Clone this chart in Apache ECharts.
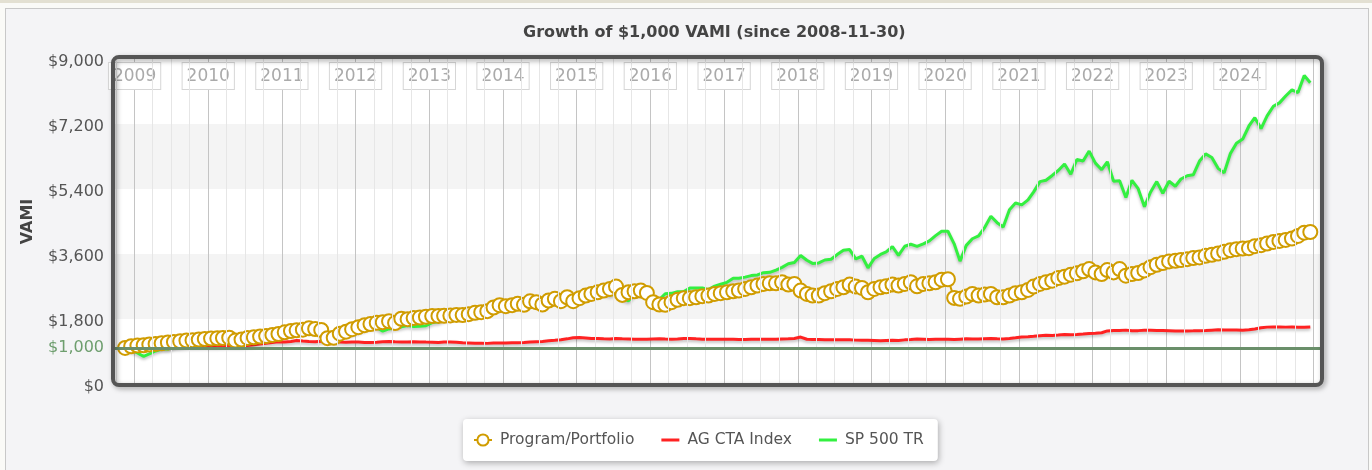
<!DOCTYPE html>
<html>
<head>
<meta charset="utf-8">
<title>Growth of $1,000 VAMI</title>
<script src="https://cdn.jsdelivr.net/npm/echarts@6/dist/echarts.min.js"></script>
<style>
html, body { margin: 0; padding: 0; background: #fafaf7; }
#strip { position: absolute; left: 0; top: 0; width: 1372px; height: 3px; background: #e3e0d2; }
#box { position: absolute; left: 5px; top: 8px; width: 1364px; height: 470px; box-sizing: border-box;
       border: 1px solid #c8c8c8; background: #f4f4f6; }
#chart { position: absolute; left: 0; top: 0; width: 1372px; height: 470px; }
</style>
</head>
<body>
<div id="strip"></div>
<div id="box"></div>
<div id="chart"></div>
<script>
// monthly values, Nov 2008 .. Dec 2024 (first row: Nov, Dec 2008; then Jan..Dec per year)
var program = [
	1000, 1046,
	1064, 1073, 1092, 1110, 1128, 1147, 1165, 1183, 1202, 1211, 1229, 1248, // 2009
	1257, 1266, 1275, 1284, 1202, 1229, 1275, 1293, 1312, 1330, 1358, 1385, // 2010
	1431, 1468, 1486, 1504, 1541, 1523, 1495, 1270, 1280, 1394, 1450, 1518, // 2011
	1573, 1628, 1660, 1693, 1711, 1738, 1690, 1807, 1795, 1825, 1840, 1862, // 2012
	1880, 1885, 1889, 1899, 1912, 1908, 1935, 1972, 1990, 2018, 2119, 2183, // 2013
	2155, 2183, 2220, 2193, 2290, 2265, 2202, 2312, 2358, 2293, 2403, 2293, // 2014
	2376, 2449, 2495, 2541, 2587, 2633, 2697, 2468, 2541, 2569, 2587, 2523, // 2015
	2265, 2202, 2193, 2265, 2330, 2376, 2376, 2403, 2431, 2449, 2495, 2514, // 2016
	2541, 2569, 2587, 2633, 2679, 2725, 2771, 2789, 2789, 2817, 2752, 2771, // 2017
	2587, 2495, 2449, 2449, 2514, 2569, 2633, 2679, 2752, 2697, 2660, 2541, // 2018
	2633, 2679, 2706, 2752, 2725, 2771, 2817, 2706, 2771, 2789, 2817, 2890, // 2019
	2900, 2385, 2358, 2422, 2495, 2449, 2477, 2495, 2403, 2403, 2449, 2514, // 2020
	2541, 2605, 2697, 2771, 2817, 2862, 2936, 2972, 3027, 3064, 3119, 3183, // 2021
	3091, 3046, 3155, 3091, 3183, 3000, 3046, 3073, 3145, 3235, 3302, 3348, // 2022
	3394, 3412, 3431, 3458, 3486, 3504, 3550, 3578, 3614, 3660, 3706, 3733, // 2023
	3752, 3761, 3816, 3844, 3889, 3935, 3963, 3990, 4027, 4100, 4191, 4210  // 2024
];
var ctaIndex = [
	1000, 1012,
	1008, 1004, 998, 1002, 1010, 1006, 1015, 1020, 1030, 1042, 1038, 1044,
	1048, 1045, 1050, 1052, 1060, 1055, 1068, 1090, 1110, 1128, 1150, 1170,
	1162, 1175, 1205, 1190, 1176, 1170, 1185, 1195, 1172, 1160, 1158, 1165,
	1160, 1152, 1150, 1158, 1170, 1176, 1168, 1165, 1160, 1170, 1165, 1160,
	1158, 1150, 1162, 1160, 1155, 1140, 1135, 1128, 1130, 1125, 1132, 1138,
	1135, 1140, 1142, 1148, 1160, 1172, 1180, 1195, 1210, 1228, 1250, 1278,
	1285, 1275, 1262, 1258, 1250, 1245, 1258, 1250, 1245, 1238, 1240, 1236,
	1248, 1252, 1245, 1240, 1248, 1262, 1260, 1250, 1242, 1238, 1240, 1238,
	1236, 1238, 1235, 1232, 1236, 1240, 1238, 1242, 1240, 1248, 1250, 1258,
	1300, 1240, 1232, 1230, 1228, 1225, 1224, 1228, 1222, 1215, 1212, 1210,
	1205, 1200, 1208, 1212, 1205, 1222, 1232, 1248, 1240, 1230, 1236, 1240,
	1238, 1230, 1242, 1250, 1248, 1245, 1255, 1262, 1250, 1245, 1262, 1280,
	1300, 1310, 1320, 1335, 1348, 1345, 1355, 1370, 1365, 1372, 1385, 1398,
	1405, 1420, 1470, 1482, 1480, 1492, 1475, 1478, 1490, 1488, 1482, 1480,
	1478, 1470, 1465, 1470, 1472, 1478, 1480, 1490, 1500, 1495, 1492, 1498,
	1490, 1500, 1525, 1555, 1575, 1580, 1578, 1575, 1578, 1572, 1570, 1580
];
var sp500 = [
	928, 938,
	859, 767, 835, 914, 966, 968, 1041, 1078, 1118, 1098, 1164, 1186,
	1143, 1179, 1250, 1270, 1168, 1107, 1184, 1131, 1232, 1279, 1279, 1364,
	1397, 1445, 1445, 1488, 1471, 1446, 1417, 1340, 1246, 1382, 1379, 1393,
	1456, 1519, 1569, 1559, 1465, 1525, 1547, 1581, 1622, 1592, 1601, 1616,
	1700, 1723, 1787, 1822, 1864, 1839, 1933, 1877, 1936, 2025, 2087, 2140,
	2066, 2160, 2178, 2194, 2246, 2292, 2261, 2351, 2318, 2375, 2439, 2433,
	2360, 2495, 2456, 2479, 2511, 2463, 2514, 2363, 2304, 2499, 2506, 2467,
	2344, 2341, 2500, 2510, 2555, 2562, 2656, 2660, 2660, 2612, 2709, 2762,
	2815, 2927, 2930, 2960, 3002, 3021, 3083, 3092, 3156, 3230, 3329, 3366,
	3559, 3427, 3340, 3353, 3434, 3455, 3584, 3701, 3722, 3467, 3538, 3218,
	3476, 3588, 3657, 3805, 3564, 3815, 3870, 3809, 3880, 3964, 4108, 4232,
	4231, 3882, 3403, 3839, 4022, 4102, 4333, 4645, 4468, 4349, 4826, 5011,
	4960, 5097, 5321, 5605, 5644, 5775, 5913, 6093, 5809, 6216, 6174, 6450,
	6117, 5934, 6154, 5617, 5627, 5163, 5639, 5409, 4911, 5309, 5605, 5283,
	5614, 5477, 5678, 5767, 5792, 6175, 6373, 6272, 5972, 5847, 6381, 6670,
	6783, 7145, 7375, 7074, 7425, 7691, 7785, 7974, 8145, 8071, 8545, 8341
];
var seriesNames = ['Program/Portfolio', 'AG CTA Index', 'SP 500 TR'];
var yTicks = [0, 1800, 3600, 5400, 7200, 9000];
var baseLine = 1000;

var FONT = 'DejaVu Sans';
var DAY = 24 * 3600 * 1000;
var BAR_ICON = 'path://M0,0L18,0L18,3L0,3Z';

function pad(n) { return (n < 10 ? '0' : '') + n; }

// points sit mid-month
function monthDates(n) {
	var out = [];
	for (var i = 0; i < n; i++) {
		var m = 10 + i;
		out.push((2008 + Math.floor(m / 12)) + '-' + pad(m % 12 + 1) + '-15');
	}
	return out;
}

// light quarter lines between the year lines
function quarterLines() {
	var out = [];
	for (var y = 2008; y <= 2024; y++) {
		['04', '07', '10'].forEach(function (m) {
			if (y === 2008 && m !== '10') return;
			out.push({ xAxis: y + '-' + m + '-01' });
		});
	}
	return out;
}

function pairs(values, dates) {
	return values.map(function (v, i) { return [dates[i], v]; });
}

function genOption() {
	var dates = monthDates(program.length);
	return {
		animation: false,
		backgroundColor: 'transparent',
		textStyle: { fontFamily: FONT },
		title: {
			text: 'Growth of $1,000 VAMI (since 2008-11-30)',
			left: 518,
			top: 20,
			textStyle: { fontSize: 16, fontWeight: 'bold', color: '#444', fontFamily: FONT }
		},
		legend: {
			data: [
				{ name: seriesNames[0] },
				{ name: seriesNames[1], icon: BAR_ICON },
				{ name: seriesNames[2], icon: BAR_ICON }
			],
			left: 463,
			top: 419,
			padding: [13, 14, 13, 10],
			itemGap: 27,
			itemWidth: 18,
			itemHeight: 14,
			backgroundColor: '#fff',
			borderRadius: 4,
			shadowBlur: 6,
			shadowColor: 'rgba(0,0,0,0.3)',
			shadowOffsetX: 1,
			shadowOffsetY: 2,
			textStyle: { color: '#555', fontSize: 15.5, fontFamily: FONT, padding: [0, 0, 0, 3] }
		},
		grid: { left: 113, top: 59, right: 50, bottom: 86 },
		xAxis: {
			type: 'time',
			position: 'top',
			min: '2008-09-16',
			max: '2025-02-11',
			minInterval: 365 * DAY,
			maxInterval: 366 * DAY,
			axisLine: { show: false },
			axisTick: { show: false },
			axisLabel: {
				inside: true,
				margin: 4,
				showMinLabel: false,
				showMaxLabel: false,
				formatter: function (val) {
					var d = new Date(val);
					if (d.getMonth() !== 0 || d.getDate() !== 1) return '';
					var y = d.getFullYear();
					if (y < 2009 || y > 2024) return '';
					return '{y|' + y + '}';
				},
				rich: {
					y: {
						color: '#aaa', fontSize: 17, fontFamily: FONT,
						backgroundColor: '#fff', borderColor: '#d6d6d6', borderWidth: 1,
						padding: [5, 4, 4, 4]
					}
				}
			},
			splitLine: { show: true, lineStyle: { color: '#c4c4c4', width: 1 } }
		},
		yAxis: {
			type: 'value',
			min: yTicks[0],
			max: yTicks[yTicks.length - 1],
			interval: yTicks[1] - yTicks[0],
			name: 'VAMI',
			nameLocation: 'middle',
			nameGap: 77,
			nameTextStyle: { fontWeight: 'bold', fontSize: 16, color: '#444', fontFamily: FONT },
			axisLine: { show: false },
			axisTick: { show: false },
			axisLabel: {
				margin: 9,
				formatter: function (v) { return '{v|$' + v.toLocaleString('en-US') + '}'; },
				rich: {
					v: { color: '#555', fontSize: 16, fontFamily: FONT, padding: [6, 0, 0, 0] }
				}
			},
			splitLine: { show: false },
			splitArea: { show: true, areaStyle: { color: ['#ffffff', '#f4f4f4'] } }
		},
		series: [{
			name: 'quarters',
			type: 'line',
			data: [],
			silent: true,
			z: 1,
			markLine: {
				silent: true,
				symbol: 'none',
				label: { show: false },
				lineStyle: { color: '#e6e6e6', width: 1, type: 'solid' },
				data: quarterLines()
			}
		}, {
			name: seriesNames[1],
			type: 'line',
			data: pairs(ctaIndex, dates),
			symbol: 'none',
			z: 3,
			itemStyle: { color: '#ff2222' },
			lineStyle: { color: '#ff2222', width: 3, shadowColor: 'rgba(0,0,0,0.25)', shadowBlur: 3, shadowOffsetY: 2 },
			markLine: {
				silent: true,
				symbol: 'none',
				lineStyle: { color: '#6a8f6a', width: 3, type: 'solid' },
				label: {
					position: 'start', formatter: '$1,000', color: '#6e9e6e',
					fontSize: 16, fontFamily: FONT, distance: 9
				},
				data: [{ yAxis: baseLine }]
			}
		}, {
			name: seriesNames[2],
			type: 'line',
			data: pairs(sp500, dates),
			symbol: 'none',
			z: 3,
			itemStyle: { color: '#33f040' },
			lineStyle: { color: '#33f040', width: 3, shadowColor: 'rgba(0,0,0,0.25)', shadowBlur: 3, shadowOffsetY: 2 }
		}, {
			name: seriesNames[0],
			type: 'line',
			data: pairs(program, dates),
			symbol: 'circle',
			symbolSize: 14,
			showAllSymbol: true,
			z: 4,
			lineStyle: { color: '#d09c00', width: 2 },
			itemStyle: { color: '#fff', borderColor: '#d09c00', borderWidth: 2 }
		}],
		graphic: [{
			type: 'rect',
			z: 100,
			silent: true,
			shape: { x: 113, y: 57, width: 1209, height: 328, r: 6 },
			style: {
				fill: 'none', stroke: '#555', lineWidth: 4,
				shadowBlur: 5, shadowOffsetX: 2, shadowOffsetY: 2, shadowColor: 'rgba(0,0,0,0.35)'
			}
		}]
	};
}

function showChart(divId) {
	var chart = echarts.init(document.getElementById(divId));
	var option = genOption();
	if (option && typeof option === 'object') {
		chart.setOption(option, true);
	}
}

showChart('chart');
</script>
</body>
</html>
